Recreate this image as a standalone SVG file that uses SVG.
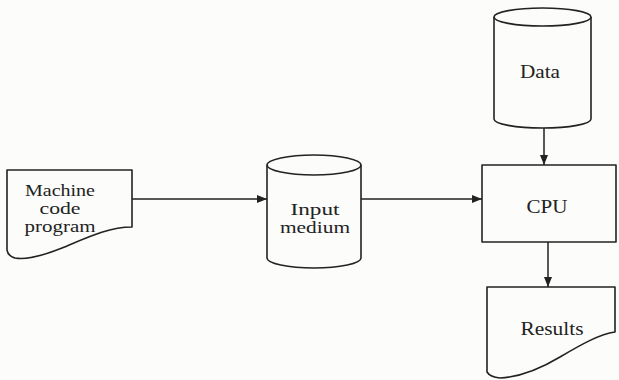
<svg xmlns="http://www.w3.org/2000/svg" width="619" height="380" viewBox="0 0 619 380">
  <style>
    .shape { fill: none; stroke: #222; stroke-width: 1.6; stroke-linejoin: round; }
    .conn { fill: none; stroke: #222; stroke-width: 1.5; }
    .label { font-family: "Liberation Serif", "DejaVu Serif", serif; font-size: 19px; fill: #222; text-anchor: middle; }
    .stack { font-size: 16px; }
  </style>
  <defs>
    <marker id="arrow" viewBox="0 0 10 8" refX="10" refY="4" markerWidth="10" markerHeight="8" markerUnits="userSpaceOnUse" orient="auto">
      <path d="M0,0 L10,4 L0,8 Z" fill="#222"/>
    </marker>
  </defs>
  <rect width="619" height="380" fill="#fcfcfa"/>

  <!-- Machine code program (document) -->
  <g id="machine-code">
    <path class="shape" d="M7,170 H132 V227 C108,227 86,238 62,248 C42,256 26,260 15,258 Q8,256 7,250 Z"/>
    <text class="label stack" x="60" y="196" textLength="70" lengthAdjust="spacingAndGlyphs">Machine</text>
    <text class="label stack" x="60" y="214" textLength="41" lengthAdjust="spacingAndGlyphs">code</text>
    <text class="label stack" x="60" y="232" textLength="71" lengthAdjust="spacingAndGlyphs">program</text>
  </g>

  <!-- Input medium (cylinder) -->
  <g id="input-medium">
    <path class="shape" d="M267,165 V258 A47,10 0 0 0 361,258 V165"/>
    <ellipse class="shape" cx="314" cy="165" rx="47" ry="10"/>
    <text class="label stack" x="315" y="215" textLength="49" lengthAdjust="spacingAndGlyphs">Input</text>
    <text class="label stack" x="315" y="233" textLength="70" lengthAdjust="spacingAndGlyphs">medium</text>
  </g>

  <!-- Data (cylinder) -->
  <g id="data">
    <path class="shape" d="M494,17 V119 A48.5,9 0 0 0 591,119 V17"/>
    <ellipse class="shape" cx="542.5" cy="17" rx="48.5" ry="9"/>
    <text class="label" x="540" y="78" textLength="40" lengthAdjust="spacingAndGlyphs">Data</text>
  </g>

  <!-- CPU (process box) -->
  <g id="cpu">
    <rect class="shape" x="482" y="165" width="134" height="77"/>
    <text class="label" x="547" y="213" textLength="41" lengthAdjust="spacingAndGlyphs">CPU</text>
  </g>

  <!-- Results (document) -->
  <g id="results">
    <path class="shape" d="M487,287 H615 V332 C600,334 582,344 560,357 C540,369 520,377 500,378 Q490,377 487,372 Z"/>
    <text class="label" x="552" y="335" textLength="63" lengthAdjust="spacingAndGlyphs">Results</text>
  </g>

  <!-- Connectors -->
  <g id="connectors">
    <line class="conn" x1="132" y1="199" x2="267" y2="199" marker-end="url(#arrow)"/>
    <line class="conn" x1="361" y1="199" x2="482" y2="199" marker-end="url(#arrow)"/>
    <line class="conn" x1="544" y1="128" x2="544" y2="165" marker-end="url(#arrow)"/>
    <line class="conn" x1="548" y1="242" x2="548" y2="287" marker-end="url(#arrow)"/>
  </g>
</svg>
